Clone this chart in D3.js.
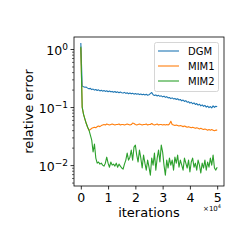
<!DOCTYPE html>
<html><head><meta charset="utf-8">
<script src="https://cdn.jsdelivr.net/npm/d3@7/dist/d3.min.js"></script>
<style>body{margin:0;background:#fff}text{font-family:"DejaVu Sans",sans-serif}</style>
</head><body>
<svg id="c" width="249" height="249"></svg>
<script>
const iterations = d3.range(0, 50001, 500);
const seriesNames = ["DGM", "MIM1", "MIM2"];
const colors = ["#1f77b4", "#ff7f0e", "#2ca02c"];
const dgm = [1.27,0.230,0.224,0.219,0.221,0.212,0.206,0.210,0.200,0.204,0.196,0.201,0.193,0.198,0.190,0.195,0.188,0.193,0.186,0.191,0.184,0.189,0.183,0.186,0.180,0.185,0.178,0.183,0.176,0.181,0.177,0.174,0.179,0.172,0.176,0.170,0.175,0.169,0.173,0.167,0.171,0.166,0.170,0.164,0.168,0.163,0.167,0.162,0.166,0.160,0.163,0.170,0.178,0.163,0.158,0.162,0.155,0.159,0.153,0.156,0.150,0.154,0.147,0.151,0.144,0.146,0.140,0.144,0.138,0.141,0.135,0.139,0.132,0.135,0.128,0.132,0.125,0.129,0.121,0.124,0.117,0.121,0.114,0.118,0.111,0.115,0.108,0.112,0.105,0.109,0.103,0.107,0.100,0.104,0.098,0.102,0.097,0.105,0.099,0.103,0.101];
const mim1 = [1.05,0.1,0.075,0.062,0.052,0.045,0.040,0.041,0.043,0.044,0.045,0.044,0.046,0.047,0.046,0.048,0.049,0.050,0.049,0.051,0.050,0.049,0.050,0.051,0.050,0.049,0.050,0.050,0.051,0.049,0.050,0.050,0.049,0.050,0.051,0.050,0.049,0.050,0.053,0.052,0.050,0.049,0.050,0.051,0.050,0.049,0.050,0.050,0.051,0.049,0.050,0.050,0.052,0.050,0.049,0.050,0.051,0.049,0.050,0.050,0.049,0.050,0.049,0.050,0.049,0.051,0.057,0.050,0.049,0.048,0.049,0.048,0.047,0.048,0.047,0.046,0.047,0.046,0.045,0.046,0.045,0.044,0.045,0.044,0.043,0.044,0.043,0.042,0.043,0.042,0.041,0.042,0.041,0.040,0.041,0.040,0.041,0.040,0.039,0.040,0.040];
const mim2 = [1.1,0.1,0.075,0.062,0.052,0.045,0.040,0.0329,0.0270,0.0168,0.0230,0.0132,0.0108,0.0113,0.0104,0.0108,0.0100,0.0096,0.0108,0.0137,0.0108,0.0092,0.0113,0.0100,0.0104,0.0096,0.0108,0.0092,0.0104,0.0096,0.0089,0.0085,0.0104,0.0122,0.0161,0.0122,0.0137,0.0181,0.0122,0.0204,0.0221,0.0149,0.0113,0.0181,0.0132,0.0089,0.0149,0.0108,0.0082,0.0122,0.0092,0.0067,0.0132,0.0100,0.0161,0.0082,0.0132,0.0181,0.0113,0.0221,0.0168,0.0100,0.0067,0.0122,0.0089,0.0132,0.0100,0.0122,0.0082,0.0137,0.0108,0.0149,0.0092,0.0122,0.0100,0.0082,0.0132,0.0108,0.0089,0.0122,0.0076,0.0113,0.0132,0.0092,0.0108,0.0082,0.0122,0.0100,0.0073,0.0108,0.0089,0.0122,0.0082,0.0113,0.0092,0.0132,0.0100,0.0149,0.0089,0.0082,0.0092];
const xTicks = [0, 10000, 20000, 30000, 40000, 50000];
const xTickLabels = ["0", "1", "2", "3", "4", "5"];
const yTicks = [0.01, 0.1, 1];
const yTickExps = ["\u22122", "\u22121", "0"];

const svg = d3.select("#c");
const L = 74, R = 224, T = 37, B = 186;
const x = d3.scaleLinear().domain([-2500, 52500]).range([L, R]);
const y = d3.scaleLog().domain([Math.pow(10, -2.36), Math.pow(10, 0.207)]).range([B, T]);

const line = d3.line().x((d, i) => x(iterations[i])).y(d => y(d));
[dgm, mim1, mim2].forEach((s, k) => {
  svg.append("path").datum(s).attr("d", line).attr("fill", "none")
    .attr("stroke", colors[k]).attr("stroke-width", 1.1).attr("stroke-linejoin", "round");
});

// frame
svg.append("rect").attr("x", L).attr("y", T).attr("width", R - L).attr("height", B - T)
  .attr("fill", "none").attr("stroke", "#000").attr("stroke-width", 0.8);

// x axis
const xa = svg.append("g").attr("transform", `translate(0,${B})`)
  .call(d3.axisBottom(x).tickValues(xTicks).tickSize(3.5).tickFormat((d, i) => xTickLabels[i]));
xa.select(".domain").remove();
xa.selectAll("line").attr("stroke-width", 0.8);
xa.selectAll("text").attr("font-size", 12.5).attr("font-family", "DejaVu Sans").attr("fill", "#000")
  .attr("dy", null).attr("y", 15.5);

// y axis major
const ya = svg.append("g").attr("transform", `translate(${L},0)`)
  .call(d3.axisLeft(y).tickValues(yTicks).tickSize(3.5).tickFormat(""));
ya.select(".domain").remove();
ya.selectAll("line").attr("stroke-width", 0.8);
ya.selectAll(".tick").each(function(d, i) {
  const t = d3.select(this).append("text").attr("x", -6).attr("y", 5.5)
    .attr("text-anchor", "end").attr("font-size", 12.5).attr("fill", "#000");
  t.append("tspan").text("10");
  t.append("tspan").attr("dy", -5.5).attr("font-size", 9).text(yTickExps[i]);
});
// y minor
const minor = [];
[0.001, 0.01, 0.1].forEach(b => { for (let m = 2; m <= 9; m++) minor.push(b * m); });
const yMinor = minor.filter(v => v >= y.domain()[0] && v <= y.domain()[1]);
const ym = svg.append("g").attr("transform", `translate(${L},0)`)
  .call(d3.axisLeft(y).tickValues(yMinor).tickSize(2).tickFormat(""));
ym.select(".domain").remove();
ym.selectAll("line").attr("stroke-width", 0.6);

// labels
svg.append("text").attr("x", (L + R) / 2).attr("y", 217).attr("text-anchor", "middle")
  .attr("font-size", 13).text("iterations");
svg.append("text").attr("transform", `translate(33,${(T + B) / 2}) rotate(-90)`)
  .attr("text-anchor", "middle").attr("font-size", 13).text("relative error");
const off = svg.append("text").attr("x", 221).attr("y", 211).attr("text-anchor", "end").attr("font-size", 7);
off.append("tspan").text("\u00d710");
off.append("tspan").attr("dy", -3).attr("font-size", 5).text("4");

// legend
const lg = svg.append("g");
lg.append("rect").attr("x", 154.5).attr("y", 42.5).attr("width", 64).attr("height", 49).attr("rx", 2)
  .attr("fill", "#fff").attr("fill-opacity", 0.8).attr("stroke", "#ccc").attr("stroke-width", 0.8);
seriesNames.forEach((n, k) => {
  const yy = 51 + k * 15;
  lg.append("line").attr("x1", 158).attr("x2", 179).attr("y1", yy).attr("y2", yy)
    .attr("stroke", colors[k]).attr("stroke-width", 1.1);
  lg.append("text").attr("x", 188).attr("y", yy + 3.6).attr("font-size", 10).text(n);
});
</script>
</body></html>
